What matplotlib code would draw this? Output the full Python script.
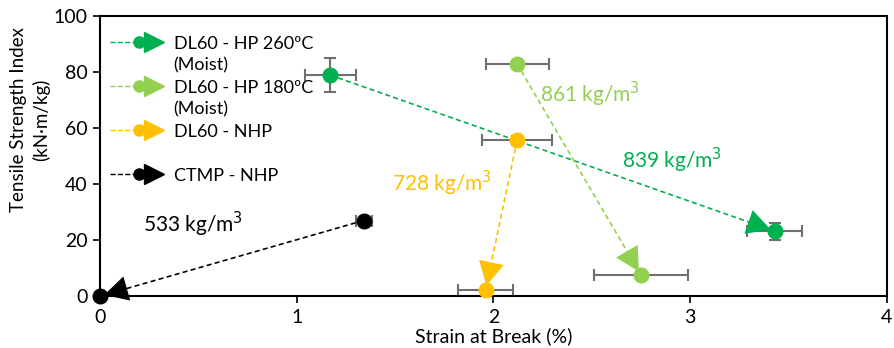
import matplotlib
matplotlib.use('Agg')
import matplotlib.pyplot as plt
from matplotlib.lines import Line2D
from matplotlib.legend_handler import HandlerBase

plt.rcParams['font.family'] = ['Lato', 'DejaVu Sans']

# Series data (start point -> end point of each arrow)
series = ['DL60 - HP 260ºC', 'DL60 - HP 180ºC', 'DL60 - NHP', 'CTMP - NHP']
colors = ['#00B050', '#92D050', '#FFC000', '#000000']
x_start = [1.17, 2.12, 2.12, 1.34]
y_start = [78.9, 82.9, 55.6, 27.0]
x_end = [3.43, 2.75, 1.96, 0.0]
y_end = [23.2, 7.5, 2.3, 0.0]
xerr_start = [0.13, 0.16, 0.18, 0.04]
yerr_start = [6.0, 0.0, 1.5, 1.0]
xerr_end = [0.14, 0.24, 0.14, 0.0]
yerr_end = [3.0, 0.0, 0.0, 0.0]

densities = ['839 kg/m$^3$', '861 kg/m$^3$', '728 kg/m$^3$', '533 kg/m$^3$']
density_x = [2.91, 2.49, 1.74, 0.47]
density_y = [48.5, 72.0, 40.3, 25.5]

legend_labels = ['DL60 - HP 260ºC', '(Moist)', 'DL60 - HP 180ºC', '(Moist)',
                 'DL60 - NHP', '', 'CTMP - NHP']


class ArrowHandler(HandlerBase):
    # dashed line + circle + triangle, like the Excel legend
    def create_artists(self, legend, orig_handle, xdescent, ydescent,
                       width, height, fontsize, trans):
        c = orig_handle.get_color()
        y = height / 2 - ydescent
        x0 = -xdescent
        line = Line2D([x0, x0 + width * 0.55], [y, y], ls='--', lw=1,
                      color=c, transform=trans)
        dot = Line2D([x0 + width * 0.55], [y], marker='o', ms=8, ls='none',
                     color=c, transform=trans)
        tri = Line2D([x0 + width * 0.82], [y], marker='>', ms=14, ls='none',
                     color=c, transform=trans)
        return [line, dot, tri]


class BlankHandler(HandlerBase):
    def create_artists(self, legend, orig_handle, xdescent, ydescent,
                       width, height, fontsize, trans):
        return [Line2D([], [], ls='none', transform=trans)]


fig = plt.figure(figsize=(8.94, 3.48), dpi=100)
ax = fig.add_axes([0.112, 0.149, 0.88, 0.805])

for i in range(len(series)):
    c = colors[i]
    ax.plot([x_start[i], x_end[i]], [y_start[i], y_end[i]], ls='--', lw=1.2,
            color=c, zorder=2, dashes=(3, 2))
    ax.annotate('', xy=(x_end[i], y_end[i]), xytext=(x_start[i], y_start[i]),
                arrowprops=dict(arrowstyle='-|>,head_length=0.85,head_width=0.45',
                                mutation_scale=20, color=c, lw=0,
                                shrinkA=0, shrinkB=3), zorder=3)
    ax.errorbar([x_start[i], x_end[i]], [y_start[i], y_end[i]],
                xerr=[xerr_start[i], xerr_end[i]], yerr=[yerr_start[i], yerr_end[i]],
                fmt='none', ecolor='#6f6f6f', elinewidth=1.5, capsize=4,
                capthick=1.5, zorder=1)
    ax.plot([x_start[i], x_end[i]], [y_start[i], y_end[i]], ls='none',
            marker='o', ms=10.5, color=c, zorder=4, clip_on=False)
    ax.text(density_x[i], density_y[i], densities[i], color=c, fontsize=15,
            ha='center', va='center')

ax.set_xlim(0, 4)
ax.set_ylim(0, 100)
ax.set_xticks([0, 1, 2, 3, 4])
ax.set_yticks([0, 20, 40, 60, 80, 100])
ax.tick_params(labelsize=14, length=5, width=1.2, direction='out', pad=4)
for s in ax.spines.values():
    s.set_linewidth(1.5)
    s.set_color('black')

ax.set_xlabel('Strain at Break (%)', fontsize=14, labelpad=1)
ax.set_ylabel('Tensile Strength Index\n(kN·m/kg)', fontsize=13.5,
              linespacing=1.3)
ax.yaxis.set_label_coords(-0.064, 0.63)

handles = []
handlers = {}
for lab in legend_labels:
    if lab in series:
        h = Line2D([], [], color=colors[series.index(lab)])
        handlers[h] = ArrowHandler()
    else:
        h = Line2D([], [], ls='none')
        handlers[h] = BlankHandler()
    handles.append(h)

ax.legend(handles, legend_labels, handler_map=handlers, loc='upper left',
          bbox_to_anchor=(0.012, 0.93), frameon=False, fontsize=13,
          handlelength=3.0, handletextpad=0.55, labelspacing=0.33,
          borderpad=0, borderaxespad=0)

fig.savefig('out.png', dpi=100)
